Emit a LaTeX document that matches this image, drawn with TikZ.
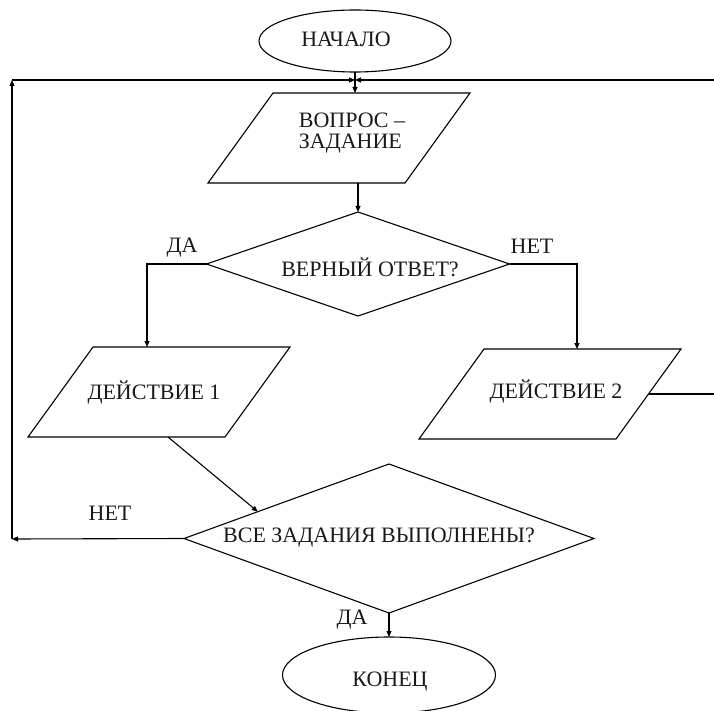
\documentclass[tikz,border=0pt]{standalone}
\usepackage{fontspec}
\setmainfont{Liberation Serif}
\usetikzlibrary{shapes.geometric,arrows.meta,calc}
\begin{document}
\begin{tikzpicture}[x=1pt,y=-1pt,
  line width=1.1pt,
  every node/.style={inner sep=0pt, outer sep=0pt},
  txt/.style={font=\fontsize{22}{21}\selectfont, text=black!90},
  term/.style={ellipse, draw},
  decis/.style={diamond, draw},
  parbox/.style={rectangle, minimum width=197pt, minimum height=90pt},
  flow/.style={-{Triangle[length=6pt,width=5pt]}}
]
\useasboundingbox (0,0) rectangle (714,711);
% shapes
\node[term, minimum width=192pt, minimum height=62pt] (start) at (355,41) {};
\node[parbox] (q1) at (339,138) {};
\draw ([xshift=32.5pt]q1.north west) -- ([xshift=32.5pt]q1.north east) -- ([xshift=-32.5pt]q1.south east) -- ([xshift=-32.5pt]q1.south west) -- cycle;
\node[decis, minimum width=303pt, minimum height=104pt] (c1) at (358,264) {};
\node[parbox] (d1) at (159,392) {};
\draw ([xshift=32.5pt]d1.north west) -- ([xshift=32.5pt]d1.north east) -- ([xshift=-32.5pt]d1.south east) -- ([xshift=-32.5pt]d1.south west) -- cycle;
\node[parbox] (d2) at (550,394) {};
\draw ([xshift=32.5pt]d2.north west) -- ([xshift=32.5pt]d2.north east) -- ([xshift=-32.5pt]d2.south east) -- ([xshift=-32.5pt]d2.south west) -- cycle;
\node[decis, minimum width=410pt, minimum height=149pt] (c2) at (389,538.5) {};
\node[term, minimum width=213pt, minimum height=76pt] (end) at (389,675) {};
% texts
\node[txt] (tstart) at (346,39) {НАЧАЛО};
\node[txt, align=left] (tq1) at (352,133) {ВОПРОС –\\ЗАДАНИЕ};
\node[txt] (tc1) at (370,267) {ВЕРНЫЙ ОТВЕТ?};
\node[txt] (td1) at (154,393) {ДЕЙСТВИЕ 1};
\node[txt] (td2) at (556,392) {ДЕЙСТВИЕ 2};
\node[txt] (tc2) at (379,538) {ВСЕ ЗАДАНИЯ ВЫПОЛНЕНЫ?};
\node[txt] (tend) at (390,682) {КОНЕЦ};
\node[txt] (lyes1) at (182,248) {ДА};
\node[txt] (lno1) at (532,246) {НЕТ};
\node[txt] (lno2) at (110,513) {НЕТ};
\node[txt] (lyes2) at (352,620) {ДА};
% coordinates
\coordinate (jn) at (355,80);
\coordinate (ul) at (12,80);
\coordinate (ll) at (12,539);
\coordinate (lb) at (147,264);
\coordinate (rb) at (577,264);
\coordinate (rt) at (714,80);
% connectors
\draw[flow] (start.south) -- (start.south |- q1.north);
\draw[flow] (c1.north |- q1.south) -- (c1.north);
\draw[flow] (c1.west) -| (lb |- d1.north);
\draw[flow] (c1.east) -| (rb |- d2.north);
\draw[flow] ([xshift=9pt]d1.south) -- ($(c2.west)!0.36!(c2.north)$);
\draw[flow] (c2.south) -- (end.north);
\draw[flow] (c2.west) -- (ll);
\draw[flow] (ll) -- (ul);
\draw[flow] (ul) -- (jn);
\draw (d2.east) -- (d2.east -| rt);
\draw[flow] (rt) -- (jn);
\end{tikzpicture}
\end{document}
